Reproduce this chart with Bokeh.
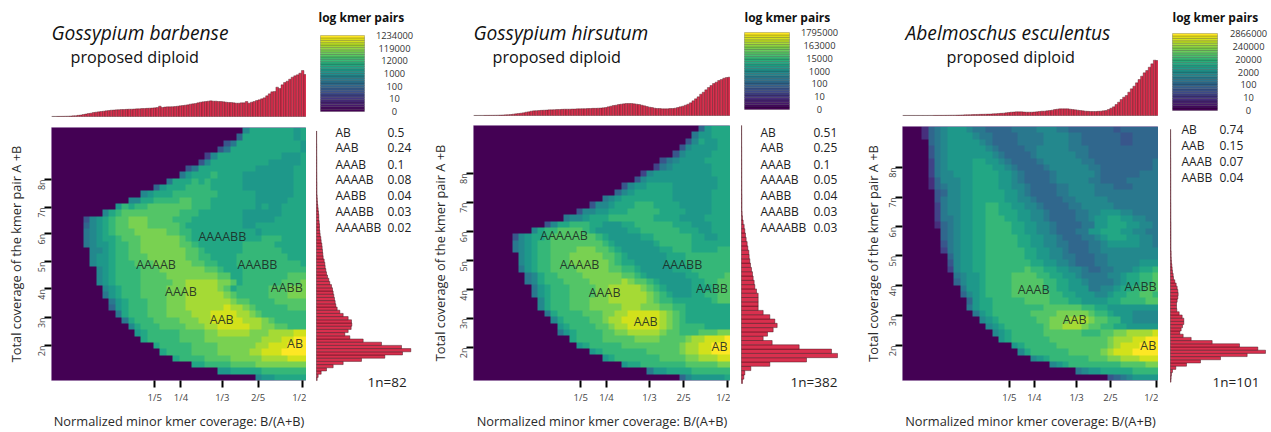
from math import pi
import numpy as np
from bokeh.embed import file_html
from bokeh.resources import INLINE
from bokeh.plotting import figure
from bokeh.layouts import row, column
from bokeh.models import Label, FixedTicker, LinearColorMapper, Range1d
from bokeh.palettes import Viridis256, viridis
from bokeh.core.properties import value

FONT = "Open Sans"
BAR = "#d9304e"

# heat-map cells, top row first; one hex digit per cell (colour level), left part is empty (level 0)
heat_barbense = [
"7999999989","59999999989","4699999999998","46999999999998","3799999999998889","47999999999888889",
"4699999999988888899","68999a99998888888899","6999a9a999998888888899","58999aaaa999998888888899",
"78999aaaaaaa99999988888899","7799aaaabbaaa999999988888999","8a9aabbbbbbbaaa999999989889999",
"79abbbbbbbbbaaa99999998888889999","4789abbcccbbbbaaa999999998888899999",
"5789abbcccbbbbba9999999998899999999","6789abbbcccccbbaa999999999989999999",
"67899abbbccccccba99999999999aaa9999","67889aabbccccccbba9999999aaaaa99999",
"7789aabbcccccccbba999999aaaaaa9999","7889aabbbccccccbbaa9999aaaaaaaa999","7889aaabbbccccccbbaa999aaaaaaaaaa9",
"789aaaabbbcccccccbba999aaaaaaaaaa","789aaaabbbbccccccccbb99aaaaaaabbb","789aaaabbbbbccdddddccb9aaaaaabbbc",
"789aaabbbbcccdddddcb9aaaaabbbccc","689aaabbbbcccddddddcbaaaaabbbccc","689aaabbbcccdddddddcbbaaaabbbbb",
"589aaabbbcccddddddeddcbaaaaabbb","69aaabbbccccdddeeeeddcbaaaaaaa","69aaabbbbcccddeeeeedddcbaaaaa",
"79aaabbbbcccddeeeeeddccbbaaa","89aaaaabbbbccdddddcccddddee","9aaaaabbbbcccccccccdddeeff",
"9aaaaabbbbccccccddeeefff","9aaaabbbbcccccddeeeffff","9aaaabbbbcccccddddeee","99aaaabbbbcccccccc",
"8899999aaaaaaa","78899999"]

heat_hirsutum = [
"58999","688999","4798899","47888899","478888999","46788889999","367888888999","37888888888999",
"478888888888899","47889999888888899","578999999888888999","67899999999888888999",
"4778999aaa999988888999","47788999aaaaa99998888999","6778999aaaaaaa999988889999",
"4799aaa9988899aaaaaa999888999","79aabbbba98888899aaaaaa99988999",
"47899abbbbbbba98888899aaaaaa998899","6789aabbbbbbbba98888889aaaaa999999",
"6789aabbbbcccbba988888899aaa9999aa","789aabbbcccccbba9888888999aaaaaaa",
"789aabbbccccccba9988888999aaaaaaa","689aabbbbcccccbbaa988888999aaaaaa","679aabbbbccccccbba988888899aaaab",
"679aaabbbbcccccdcbba98888899aabb","689aaabbbbccdddddcba98888999abb","689aaabbbbccddddddcba988899aabb",
"79aaabbbcccddddddcbaa999999abb","79aaabbbcccccdddcccbbaa9999999","69aaaabbbccddeeeeedcba9999999",
"79aaaabbcddeeeeeedcba9999999","89aaaabbcddeeeeedcbaaaa9999","689aaaabbccdddddcbbaaabbbcc",
"9aaaabbbbbccccbbbbcddeeef","89aaaaabbbbbbbbbcddeefff","89aaaaaaabbbbbcddeefff","89aaaaaaabbbbccdddee",
"899aaaaaaabbbbbcc","6889999aaaaaa","57888889"]

heat_esculentus = [
"2567888766555566667776655555554555555","2567888876655556666777766555555445555",
"567888887655556666777766555555445555","467888888765555667777766655555555555",
"467888888876555567777776655555555555","367888899887655556777777665555555556",
"367888899988765555677777766555555556","367788899998876555567777776555555666",
"257778899998876555567777766555566666","256778899998877655556677776665556666",
"45778899999887655556677776666666666","46778899999887765555667777766666666",
"36778899aa9988776555566777776666666","36778899aa9998877655556677888776666",
"36678899aaa998877655556678899887766","25678899aaaa99887765555668899988776",
"5678899aaaa99887765556688999887766","5678899aaaaa9988776555667899988776",
"4678899aaaaa9988776655566788888776","3678899aaaaaa998877655566777777777",
"578899aaaaaa998877665556677777777","478899aaaaaaa99887765556677777888",
"378899aaaaaabaa99887765566777899a","67889aaaabbbbaa99887666677899aab","57889aaaabbbbbaa9988766667899aab",
"6889aaaabbbbbaa998886677899aabb","5789aaaabbbbbbaa9988877899aabba","5899aaaaabbbbaaa99888899aaaabb",
"6899aaaaaaaabbbbbbaa9988888888","689aaaaaabbbbcccccbaa98887777","789aaaaaabbcccdddcbbaa887777",
"789aaaaaabccdddcbbaa9988888","789aaaaabbbbbbaaabbccdddde","89aaaaaabbbbbbbbbcdddeeff",
"89aaaaabbbbbbbbcdeeefff","79aaaaaabbbbbcdeeeffff","789aaaaaabbbccdddeee","789aaaaaaaabbbbcc",
"678899999aaaa","45678888"]

# marginal histograms (relative counts)
top_barbense = [.3,.3,.4,.5,.6,.8,1,1.5,2,2.5,3.5,4.5,6,7.5,9,10,12,13,14,15,16,17,18,19,19.5,20,20.5,21,21,21.5,
 22,22,22.5,23,23,24,24,24.5,25,25.5,26,27,31,27,28.5,29,29,29.5,30,31,32,33,34,35,37,38,39,41,43,44,
 45,46,47,46,46,45,45,44,43,42,42,41,40,40,41,41,45,40,43,45,48,50,53,56,62,68,74,75,88,84,
 95,102,106,112,118,122,125,130,138,126]
top_hirsutum = [.2,.2,.3,.3,.4,.5,.6,.7,.8,1,1.3,1.6,2,2.5,3,4,5,6,7,8,10,11,13,14,14.5,15,15.5,16,16.5,17,
 17,17.5,18,18,18.5,19,19,19,19.5,19.5,20,20,20.5,20.5,21,21,21.5,21.5,22,22.5,23,24,26,28,30,31,33,34,35,36,
 36,36,35,34,33,31,29,27,25,24,22,21,21,20,20,20,21,21,22,24,26,28,31,34,38,44,50,56,64,70,
 77,84,90,96,100,105,108,112,114,115]
top_esculentus = [.2,.2,.2,.2,.2,.2,.2,.2,.2,.2,.3,.3,.4,.4,.5,.5,.6,.7,.8,.9,1,1.2,1.5,1.8,2,2.2,2.5,2.7,3,3.2,
 3.5,3.7,4,4.2,4.5,5,5.5,6,6.5,7,8,9,10,10.5,11,11,11,10.5,10,10,10,10.5,11,12,13,13,14,15,16,18,
 19,20,20,20,20,19,18,17,16,15,14,13,12.5,12,12,12,12.5,13,14,15,18,22,26,33,40,48,55,60,70,80,
 88,98,108,118,128,135,145,155,166,165]

side_barbense = [2,5,14,30,50,80,135,205,258,283,255,195,140,100,85,95,104,106,105,95,80,70,62,58,56,54,52,50,48,45,
 40,37,33,30,28,26,25,23,20,19,18,17,16,14,13,11,10,9,9,8,7,7,6,5,4,3,2.5,2,1.5,1.5,
 1.5,1.5,1.2,1.2,1.2,1,1,1,1,1,.8,.8,.8,.8,.6,.6,.6,.6]
side_hirsutum = [3,7,10,28,85,195,288,270,173,92,65,78,95,107,100,85,65,50,50,50,50,45,40,38,35,33,30,27,25,23,
 22,19,17,14,12,10,8,5,3,2,1.5,1.5,1.5,1.5,1.2,1.2,1.2,1,1,1,1,1,.8,.8,.8,.6,.6,.6,.5,.5]
side_esculentus = [1.5,2,3,6,16,48,90,150,230,285,262,207,125,62,38,28,32,36,40,40,35,26,19,18,18,20,22,23,22,20,
 17,13,9,8,6,5,4,3,2.5,2,2,1.5,1.5,1.5,1.5,1.5,1.5,1.5,1.5,1.5,1.2,1.2,1.2,1.2,1.2,1.2,1,1,1,1,
 1,1,1,1,1,.8,.8,.8,.8,.8,.6,.6,.6,.6,.6,.6,.5,.5,.5]

cbar_barbense = ["0","10","100","1000","12000","119000","1234000"]
cbar_hirsutum = ["0","10","100","1000","15000","163000","1795000"]
cbar_esculentus = ["0","10","100","2000","20000","240000","2866000"]

model_barbense = ["AB","AAB","AAAB","AAAAB","AABB","AAABB","AAAABB"]
share_barbense = ["0.5","0.24","0.1","0.08","0.04","0.03","0.02"]
model_hirsutum = ["AB","AAB","AAAB","AAAAB","AABB","AAABB","AAAABB"]
share_hirsutum = ["0.51","0.25","0.1","0.05","0.04","0.03","0.03"]
model_esculentus = ["AB","AAB","AAAB","AABB"]
share_esculentus = ["0.74","0.15","0.07","0.04"]

x_tick_labels = ["1/5","1/4","1/3","2/5","1/2"]
y_tick_labels = ["2n","3n","4n","5n","6n","7n","8n"]
x_label = "Normalized minor kmer coverage: B/(A+B)"
y_label = "Total coverage of the kmer pair A +B"

# layout of each panel (page pixels / axis positions in cells)
PANELS = [
 dict(title="Gossypium barbense", heat=heat_barbense, top=top_barbense, side=side_barbense, cbar=cbar_barbense,
      model=model_barbense, share=share_barbense, n="1n=82",
      xt=[16.2,20.3,26.8,32.4,39.4], yt=[5.54,9.98,14.47,18.8,23.2,27.4,31.8],
      cells=[("AAAABB",26.8,22.8),("AAAAB",16.4,18.4),("AAABB",32.3,18.4),("AAAB",20.3,14.0),("AABB",36.9,14.7),("AAB",26.7,9.6),("AB",38.2,5.9)],
      origin=0, L=51, fw=255, fh=255, top_h=123, base_b=7, cb_l=14, cb_w=44, cb_top=35, cb_h=76, side_l=10, side_r=8,
      bins=(0.6,79.1), title_xy=(51,32), sub_xy=(70,56), cb_title_xy=(318,17), cb_c=394, ystand=1,
      tab_x=(335,387), tab_y=[131.5,147,163.5,179,195,211,227], n_xy=(367,381)),
 dict(title="Gossypium hirsutum", heat=heat_hirsutum, top=top_hirsutum, side=side_hirsutum, cbar=cbar_hirsutum,
      model=model_hirsutum, share=share_hirsutum, n="1n=382",
      xt=[16.7,20.7,27.4,32.7,39.6], yt=[5.18,9.74,14.2,18.76,23.37,27.93,32.5],
      cells=[("AAAAAB",14.1,22.7),("AAAAB",16.5,18.2),("AAABB",32.5,18.2),("AAAB",20.4,13.8),("AABB",37.1,14.4),("AAB",26.8,9.2),("AB",38.3,5.3)],
      origin=420, L=53, fw=257, fh=258, top_h=121, base_b=6, cb_l=14, cb_w=45, cb_top=32, cb_h=77, side_l=11, side_r=13,
      bins=(0,60), title_xy=(473,32), sub_xy=(492,56), cb_title_xy=(744,17), cb_c=819, ystand=-1,
      tab_x=(760,813), tab_y=[131.5,147,163.5,179,195,211,227], n_xy=(790,381)),
 dict(title="Abelmoschus esculentus", heat=heat_esculentus, top=top_esculentus, side=side_esculentus, cbar=cbar_esculentus,
      model=model_esculentus, share=share_esculentus, n="1n=101",
      xt=[16.7,20.6,27.2,32.5,39.7], yt=[5.5,10.23,14.96,19.64,24.2,28.88,33.6],
      cells=[("AAAB",20.5,14.3),("AABB",37.2,14.8),("AAB",26.9,9.6),("AB",38.4,5.5)],
      origin=850, L=52, fw=256, fh=256, top_h=122, base_b=7, cb_l=14, cb_w=45, cb_top=33, cb_h=77, side_l=12, side_r=5,
      bins=(0.1,79.9), title_xy=(905,32), sub_xy=(946,56), cb_title_xy=(1172,17), cb_c=1248, ystand=-5,
      tab_x=(1181,1219), tab_y=[129.3,145.3,161.3,177.3], n_xy=(1212,381)),
]


def txt(fig, FL, FB, s, X, Y, size, align="left", style="normal", color="#222222"):
    """A text placed by page pixels; (FL, FB) are the page pixels of the frame's left and bottom edges."""
    fig.add_layout(Label(x=X-FL, y=FB-Y, x_units="screen", y_units="screen", text=s, text_font=FONT,
                         text_font_size=f"{size}px", text_align=align, text_baseline="middle",
                         text_font_style=style, text_color=color))


def bare(**kw):
    f = figure(output_backend="svg", toolbar_location=None, **kw)
    f.axis.visible = False
    f.grid.visible = False
    f.outline_line_color = None
    f.background_fill_color = None
    f.border_fill_color = None
    return f


def panel(c):
    heat_w = c["L"] + c["fw"]
    side_w = c["side_l"] + 96 + c["side_r"]
    frame0 = c["origin"] + c["L"]
    side0 = c["origin"] + heat_w

    # top histogram and titles: the frame reaches the figure's top and bottom, counts keep 3 units to a pixel
    base_page = c["top_h"] - c["base_b"]
    tf = bare(width=heat_w, height=c["top_h"], min_border_left=c["L"], min_border_right=0, min_border_top=0, min_border_bottom=0,
              x_range=Range1d(0, 100), y_range=Range1d(-c["base_b"]*3, base_page*3))
    xs = np.arange(100) + .5
    tf.vbar(x=xs, top=c["top"], width=1, bottom=0, fill_color=BAR, line_color="#3a1018", line_width=.5, line_alpha=.7)
    txt(tf, frame0, c["top_h"], c["title"], c["title_xy"][0], c["title_xy"][1], 19.2, style="italic", color="#111111")
    txt(tf, frame0, c["top_h"], "proposed diploid", c["sub_xy"][0], c["sub_xy"][1], 16.2, color="#111111")

    # colour key: 32 bands
    band_px = c["cb_h"] / 32
    cb_bottom = c["cb_top"] + c["cb_h"]
    cf = bare(width=side_w, height=c["top_h"], min_border=0, x_range=Range1d(0, side_w),
              y_range=Range1d(-(c["top_h"]-cb_bottom)/band_px, 32 + c["cb_top"]/band_px))
    cols = viridis(32)
    cf.hbar(y=np.arange(32)+.5, left=c["cb_l"], right=c["cb_l"]+c["cb_w"], height=1, fill_color=cols,
            line_color="#111111", line_width=.5, line_alpha=.45)
    for i, s in enumerate(c["cbar"]):
        txt(cf, side0, c["top_h"], s, c["cb_c"], cb_bottom - i*c["cb_h"]/6, 9.3, align="center", color="#333333")
    txt(cf, side0, c["top_h"], "log kmer pairs", c["cb_title_xy"][0], c["cb_title_xy"][1], 12, style="bold", color="#111111")

    # smudge heat map
    hh = 432 - c["top_h"]
    p = figure(output_backend="svg", toolbar_location=None, width=heat_w, height=hh,
               min_border_left=c["L"], min_border_right=0, min_border_top=4, min_border_bottom=hh-4-c["fh"],
               x_range=Range1d(0, 40), y_range=Range1d(0, 40))
    p.grid.visible = False
    p.outline_line_color = "#b9a0c4"
    p.outline_line_width = 1
    grid = np.array([[int(ch, 16) for ch in r.rjust(40, "0")[-40:]] for r in reversed(c["heat"])], dtype=float)
    mapper = LinearColorMapper(palette=Viridis256, low=0, high=15)
    p.image(image=[grid], x=0, y=0, dw=40, dh=40, color_mapper=mapper)
    p.text(x=[t[1] for t in c["cells"]], y=[t[2] for t in c["cells"]], text=[t[0] for t in c["cells"]],
           text_font=value(FONT), text_font_size="12.5px", text_align="center", text_baseline="middle",
           text_color="#1c2a24", text_alpha=.9)

    p.xaxis.ticker = FixedTicker(ticks=c["xt"])
    p.xaxis.major_label_overrides = dict(zip(c["xt"], x_tick_labels))
    p.yaxis.ticker = FixedTicker(ticks=c["yt"])
    p.yaxis.major_label_overrides = dict(zip(c["yt"], y_tick_labels))
    for ax in (p.xaxis[0], p.yaxis[0]):
        ax.axis_line_color = None
        ax.major_tick_line_color = "#000000"
        ax.major_tick_line_width = 2
        ax.major_tick_in = 0
        ax.major_tick_out = 7
        ax.minor_tick_line_color = None
        ax.major_label_text_font = FONT
        ax.major_label_text_color = "#444444"
        ax.axis_label_text_font = FONT
        ax.axis_label_text_font_style = "normal"
        ax.axis_label_text_color = "#2a2a2a"
    p.xaxis.major_label_text_font_size = "9.5px"
    p.xaxis.major_label_standoff = 3
    p.xaxis.axis_label = x_label
    p.xaxis.axis_label_text_font_size = "12.8px"
    p.xaxis.axis_label_standoff = 5
    p.yaxis.major_label_text_font_size = "9px"
    p.yaxis.major_label_orientation = pi/2
    p.yaxis.major_label_standoff = 3
    p.yaxis.axis_label = y_label
    p.yaxis.axis_label_text_font_size = "12.8px"
    p.yaxis.axis_label_standoff = c["ystand"]

    # side histogram and model table: the frame fills the figure
    bin_h = c["fh"] / (c["bins"][0] + c["bins"][1])
    sb = c["top_h"] + 4 + c["fh"]
    sf = bare(width=side_w, height=hh, min_border=0, x_range=Range1d(-c["side_l"]*3, (96+c["side_r"])*3),
              y_range=Range1d(-c["bins"][0] - (432-sb)/bin_h, c["bins"][1] + 4/bin_h))
    ys = np.arange(len(c["side"])) + .5
    sf.hbar(y=ys, right=c["side"], left=0, height=1, fill_color=BAR, line_color="#3a1018", line_width=.6, line_alpha=.75)
    for m, v, y in zip(c["model"], c["share"], c["tab_y"]):
        txt(sf, side0, 432, m, c["tab_x"][0], y, 12)
        txt(sf, side0, 432, v, c["tab_x"][1], y, 12)
    txt(sf, side0, 432, c["n"], c["n_xy"][0], c["n_xy"][1], 13.5)

    return row(column(tf, p, spacing=0), column(cf, sf, spacing=0), spacing=0)


page = row(*[panel(c) for c in PANELS], spacing=0)
open("out.html", "w").write(file_html(page, INLINE))
